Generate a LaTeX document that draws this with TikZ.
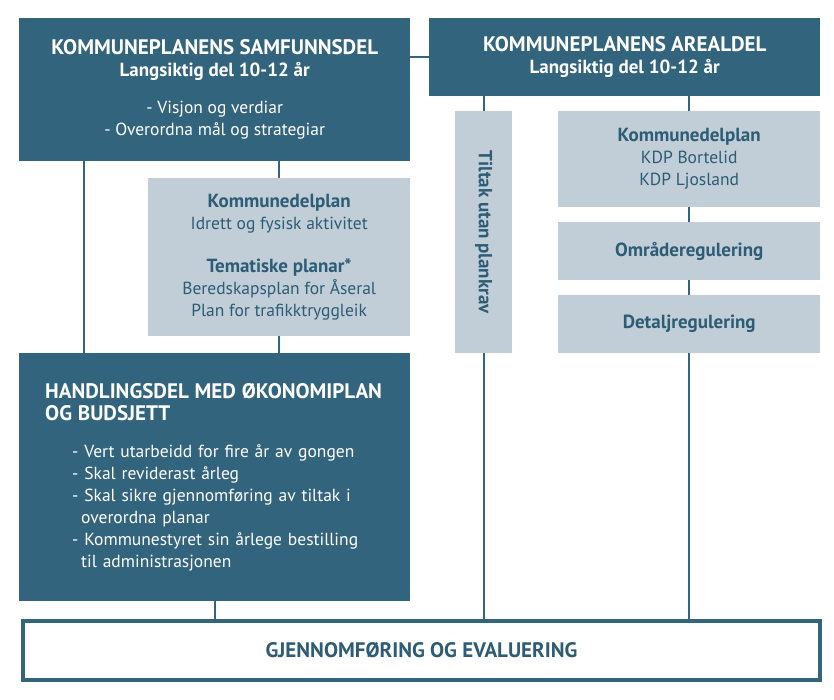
\documentclass[tikz,border=0pt]{standalone}
\usepackage{fontspec}
\setmainfont{PT Sans}
\usetikzlibrary{positioning}

\definecolor{planblue}{RGB}{50,100,125}
\definecolor{plangrey}{RGB}{193,205,215}
\definecolor{plantext}{RGB}{45,92,117}

\newcommand{\bodysize}{\fontsize{17.5}{22}\selectfont}
\newcommand{\boldsize}{\fontsize{19}{22}\selectfont\bfseries}
\newcommand{\headsize}{\fontsize{21}{23}\selectfont\bfseries}

\tikzset{
  darkbox/.style={fill=planblue, text=white, anchor=north west, inner sep=0pt,
    font=\bodysize},
  greybox/.style={fill=plangrey, text=plantext, anchor=north west, inner sep=0pt,
    font=\bodysize, align=center},
  link/.style={planblue, line width=2pt},
}

\begin{document}
\begin{tikzpicture}[x=1pt, y=-1pt]

  \useasboundingbox (0,0) rectangle (834,700);

  %% ---- Top row ----
  \node[darkbox, minimum width=391pt, minimum height=143pt, align=center] (samf) at (19,18)
    {{\headsize KOMMUNEPLANENS SAMFUNNSDEL}\\
     {\boldsize Langsiktig del 10-12 år}\\[15pt]
     - Visjon og verdiar\\
     - Overordna mål og strategiar};
  \node[darkbox, minimum width=391pt, minimum height=78pt, align=center] (areal) at (429,18)
    {{\headsize KOMMUNEPLANENS AREALDEL}\\
     {\boldsize Langsiktig del 10-12 år}};

  %% ---- Grey plan boxes ----
  \node[greybox, minimum width=262pt, minimum height=158pt] (tema) at (148,178)
    {{\boldsize Kommunedelplan}\\
     Idrett og fysisk aktivitet\\[21pt]
     {\boldsize Tematiske planar*}\\
     Beredskapsplan for Åseral\\
     Plan for trafikktryggleik};
  \node[greybox, minimum width=57pt, minimum height=242pt] (tiltak) at (455,111) {};
  \node[rotate=-90, text=plantext, font=\boldsize]
    (tiltaktxt) at (tiltak.center) {Tiltak utan plankrav};
  \node[greybox, minimum width=262pt, minimum height=96pt] (kdp) at (558,111)
    {{\boldsize Kommunedelplan}\\
     KDP Bortelid\\
     KDP Ljosland};
  \node[greybox, minimum width=262pt, minimum height=58pt, font=\boldsize]
    (omr) at (558,222) {Områderegulering};
  \node[greybox, minimum width=262pt, minimum height=58pt, font=\boldsize]
    (det) at (558,295) {Detaljregulering};

  %% ---- Handlingsdel ----
  \node[darkbox, minimum width=391pt, minimum height=248pt, align=left,
    text width=339pt, inner xsep=26pt, inner ysep=0pt] (hand) at (19,353)
    {{\headsize HANDLINGSDEL MED ØKONOMIPLAN\\OG BUDSJETT}\\[15pt]
     \hspace*{27pt}- Vert utarbeidd for fire år av gongen\\
     \hspace*{27pt}- Skal reviderast årleg\\
     \hspace*{27pt}- Skal sikre gjennomføring av tiltak i\\
     \hspace*{36pt}overordna planar\\
     \hspace*{27pt}- Kommunestyret sin årlege bestilling\\
     \hspace*{36pt}til administrasjonen};

  %% ---- Bottom box ----
  \node[draw=planblue, line width=4pt, fill=white, anchor=north west, inner sep=0pt,
    minimum width=797pt, minimum height=59pt, text=plantext,
    font=\fontsize{21}{22}\selectfont\bfseries] (gjen) at (21,619)
    {GJENNOMFØRING OG EVALUERING};

  %% ---- Connectors ----
  \coordinate (lft) at (84,0);
  \draw[link] (areal.west) -- (areal.west -| samf.east);
  \draw[link] (samf.south -| lft) -- (hand.north -| lft);
  \draw[link] (samf.south -| tema) -- (tema.north);
  \draw[link] (tema.south) -- (hand.north -| tema);
  \draw[link] (hand.south) -- (gjen.north -| hand.south);
  \draw[link] (areal.south -| tiltak) -- (tiltak.north);
  \draw[link] (tiltak.south) -- (gjen.north -| tiltak);
  \draw[link] (areal.south -| kdp) -- (kdp.north);
  \draw[link] (kdp.south) -- (omr.north);
  \draw[link] (omr.south) -- (det.north);
  \draw[link] (det.south) -- (gjen.north -| det);

\end{tikzpicture}
\end{document}
